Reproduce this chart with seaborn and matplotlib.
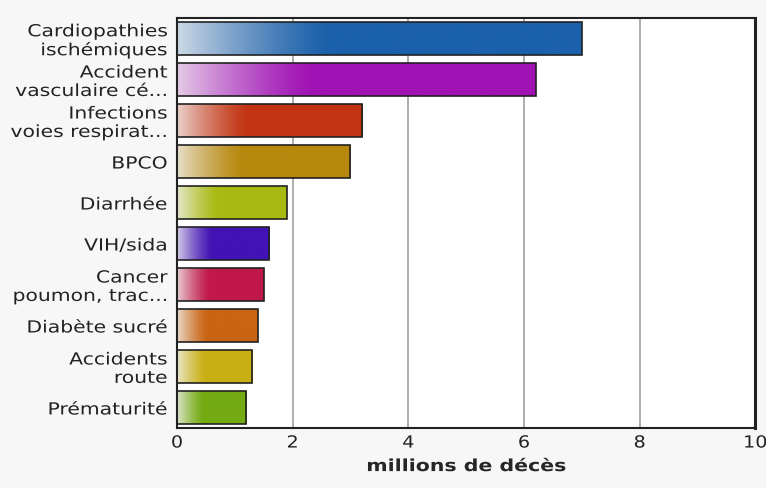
import numpy as np
import pandas as pd
import matplotlib
matplotlib.use("Agg")
import matplotlib.pyplot as plt
import matplotlib.colors as mcolors
import matplotlib.patheffects as pe
from matplotlib.transforms import Affine2D
import seaborn as sns

# données
causes = ['Cardiopathies\nischémiques', 'Accident\nvasculaire cé...',
          'Infections\nvoies respirat...', 'BPCO', 'Diarrhée', 'VIH/sida',
          'Cancer\npoumon, trac...', 'Diabète sucré', 'Accidents\nroute',
          'Prématurité']
deces = [7.0, 6.2, 3.2, 3.0, 1.9, 1.6, 1.5, 1.4, 1.3, 1.2]

couleurs = ['#1a60aa', '#a012b4', '#c23412', '#b8880e', '#a8ba12',
            '#4212b4', '#c01848', '#c86412', '#c8b014', '#74aa12']

df = pd.DataFrame({'cause': causes, 'deces': deces})


# texte étiré horizontalement (la police de l'original est plus large)
class Etire(pe.AbstractPathEffect):
    def __init__(self, sx, ancre='right'):
        super().__init__()
        self.sx = sx
        self.ancre = ancre

    def draw_path(self, renderer, gc, tpath, affine, rgbFace=None):
        bb = tpath.get_extents(affine)
        if self.ancre == 'right':
            x0 = bb.x1
        elif self.ancre == 'center':
            x0 = 0.5 * (bb.x0 + bb.x1)
        else:
            x0 = bb.x0
        t = affine + Affine2D().translate(-x0, 0).scale(self.sx, 1).translate(x0, 0)
        renderer.draw_path(gc, tpath, t, rgbFace)


sns.set_style('white')
plt.rcParams['font.family'] = ['DejaVu Sans']

fig = plt.figure(figsize=(7.66, 4.88), dpi=100, facecolor='#f7f7f7')
ax = fig.add_axes([0.231, 0.123, 0.755, 0.840])
ax.set_facecolor('white')

sns.barplot(data=df, x='deces', y='cause', hue='cause', palette=couleurs,
            legend=False, width=0.8, edgecolor='#222222', linewidth=1.2,
            saturation=1, ax=ax)

# dégradé clair -> couleur sur la partie gauche de chaque barre
for patch, c in zip(ax.patches, couleurs):
    x0, y0 = patch.get_x(), patch.get_y()
    w, h = patch.get_width(), patch.get_height()
    rgb = np.array(mcolors.to_rgb(c))
    n = 200
    t = np.clip(np.linspace(0, 1, n) / 0.38, 0, 1)
    mix = 0.82 * (1 - t) ** 1.3
    grad = rgb[None, :] * (1 - mix[:, None]) + np.array([0.95, 0.95, 0.95])[None, :] * mix[:, None]
    img = ax.imshow(grad[None, :, :], extent=[x0, x0 + w, y0 + h, y0],
                    aspect='auto', zorder=patch.get_zorder() + 0.1,
                    interpolation='bilinear')
    img.set_clip_path(patch)
    patch.set_facecolor('none')
    patch.set_zorder(patch.get_zorder() + 0.2)

ax.set_xlim(0, 10)
ax.set_ylim(9.5, -0.5)
ax.set_xticks([0, 2, 4, 6, 8, 10])
ax.xaxis.grid(True, color='#a0a0a0', linewidth=1.2)
ax.set_axisbelow(True)

ax.set_xlabel('millions de décès', fontsize=12, fontweight='bold', labelpad=4,
              path_effects=[Etire(1.23, 'center')])
ax.set_ylabel('')
ax.tick_params(axis='x', labelsize=12, length=0, pad=4, colors='#222222')
ax.tick_params(axis='y', labelsize=12, length=3, pad=4, colors='#222222')
for lab in ax.get_yticklabels():
    lab.set_horizontalalignment('right')
    lab.set_multialignment('right')
    lab.set_linespacing(1.03)
    lab.set_path_effects([Etire(1.22, 'right')])
for lab in ax.get_xticklabels():
    lab.set_path_effects([Etire(1.15, 'center')])

for side in ['left', 'bottom', 'top', 'right']:
    ax.spines[side].set_visible(True)
    ax.spines[side].set_color('#222222')
    ax.spines[side].set_linewidth(1.5)
ax.spines['right'].set_linewidth(2.2)

fig.savefig('out.png', dpi=100, facecolor=fig.get_facecolor())
